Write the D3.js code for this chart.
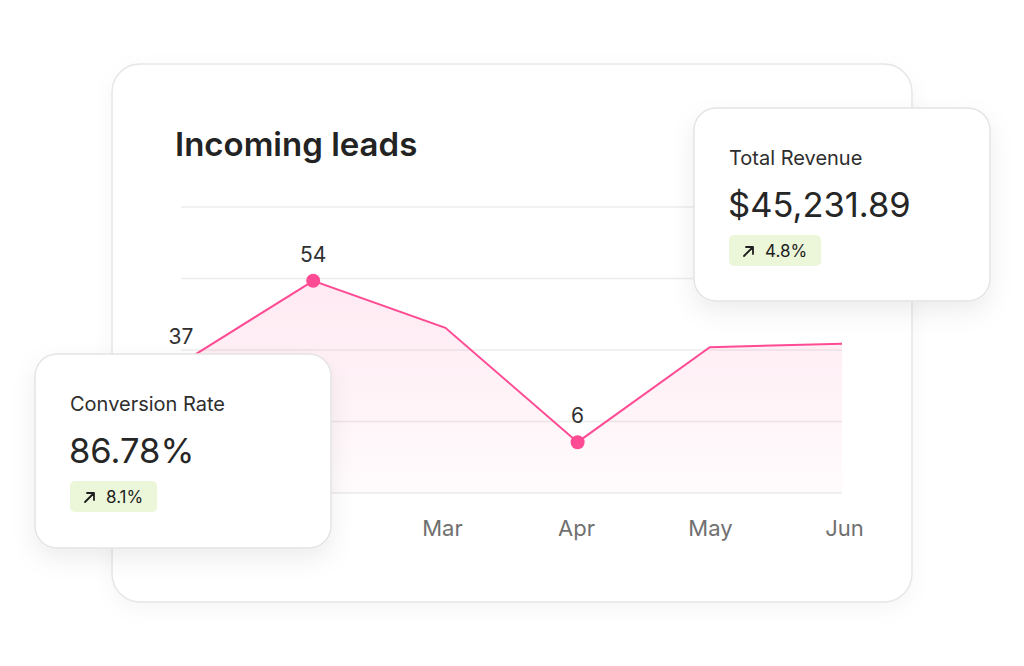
<!DOCTYPE html>
<html>
<head>
<meta charset="utf-8">
<script src="https://cdn.jsdelivr.net/npm/d3@7"></script>
<style>
  body { margin: 0; background: #fff; }
  svg { display: block; font-family: Inter, "Noto Sans", sans-serif; }
</style>
</head>
<body>
<svg id="chart" width="1024" height="666"></svg>
<script>
// chart data
const months = ["Jan", "Feb", "Mar", "Apr", "May", "Jun"];
const leads = [37, 54, 45, 6, 40.8, 41.6];
const labeledMonths = ["Jan", "Feb", "Apr"];

// kpi cards
const kpiTitles = ["Conversion Rate", "Total Revenue"];
const kpiValues = ["86.78%", "$45,231.89"];
const kpiChanges = ["8.1%", "4.8%"];

const pink = "#ff4b93";

const svg = d3.select("#chart");
const defs = svg.append("defs");

// soft shadows for the cards
function shadow(id, dy, blur, opacity) {
  defs
    .append("filter")
    .attr("id", id)
    .attr("x", "-30%")
    .attr("y", "-30%")
    .attr("width", "160%")
    .attr("height", "170%")
    .append("feDropShadow")
    .attr("dx", 0)
    .attr("dy", dy)
    .attr("stdDeviation", blur)
    .attr("flood-color", "#000")
    .attr("flood-opacity", opacity);
}
shadow("mainShadow", 6, 10, 0.04);
shadow("kpiShadow", 10, 12, 0.07);

const grad = defs
  .append("linearGradient")
  .attr("id", "areaFill")
  .attr("x1", 0)
  .attr("x2", 0)
  .attr("y1", 0)
  .attr("y2", 1);
grad.append("stop").attr("offset", "0%").attr("stop-color", pink).attr("stop-opacity", 0.12);
grad.append("stop").attr("offset", "100%").attr("stop-color", pink).attr("stop-opacity", 0.02);

// main card
const card = { x: 112, y: 64, w: 800, h: 538 };
svg
  .append("rect")
  .attr("x", card.x)
  .attr("y", card.y)
  .attr("width", card.w)
  .attr("height", card.h)
  .attr("rx", 28)
  .attr("fill", "#fff")
  .attr("stroke", "#e6e6e6")
  .attr("stroke-width", 1.5)
  .attr("filter", "url(#mainShadow)");

svg
  .append("text")
  .attr("x", 175)
  .attr("y", 156)
  .attr("fill", "#232323")
  .style("font-size", "33px")
  .style("font-weight", 600)
  .text("Incoming leads");

// plot area
const plot = { left: 181, right: 842, top: 207, bottom: 493 };
const gridCount = 5;
const gridStep = (plot.bottom - plot.top) / (gridCount - 1);

const x = d3.scalePoint().domain(months).range([plot.left, plot.right]);
// month labels sit on a slightly wider spacing than the points
const xLabels = d3.scalePoint().domain(months).range([174, 844]);
// the picture spaces the values non-linearly, a pow scale follows it
const y = d3.scalePow().exponent(1.85).domain([0, 66]).range([445, plot.top]);

svg
  .append("g")
  .selectAll("line")
  .data(d3.range(gridCount))
  .join("line")
  .attr("x1", plot.left)
  .attr("x2", plot.right)
  .attr("y1", (i) => plot.top + i * gridStep)
  .attr("y2", (i) => plot.top + i * gridStep)
  .attr("stroke", "#ececec")
  .attr("stroke-width", 1.5);

const points = months.map((m, i) => ({ month: m, value: leads[i] }));

const area = d3
  .area()
  .x((d) => x(d.month))
  .y0(plot.bottom)
  .y1((d) => y(d.value));

const line = d3
  .line()
  .x((d) => x(d.month))
  .y((d) => y(d.value));

svg.append("path").datum(points).attr("d", area).attr("fill", "url(#areaFill)");

svg
  .append("path")
  .datum(points)
  .attr("d", line)
  .attr("fill", "none")
  .attr("stroke", pink)
  .attr("stroke-width", 2);

const labeled = points.filter((d) => labeledMonths.includes(d.month));

svg
  .append("g")
  .selectAll("circle")
  .data(labeled)
  .join("circle")
  .attr("cx", (d) => x(d.month))
  .attr("cy", (d) => y(d.value))
  .attr("r", 7)
  .attr("fill", pink);

svg
  .append("g")
  .selectAll("text")
  .data(labeled)
  .join("text")
  .attr("x", (d) => x(d.month))
  .attr("y", (d) => y(d.value) - 19)
  .attr("text-anchor", "middle")
  .attr("fill", "#303030")
  .style("font-size", "21px")
  .text((d) => d.value);

// month axis
const xAxis = d3.axisBottom(xLabels).tickSize(0);
const axisG = svg
  .append("g")
  .attr("transform", `translate(0, ${plot.bottom})`)
  .call(xAxis);
axisG.select(".domain").remove();
axisG
  .selectAll("text")
  .attr("y", 43)
  .attr("dy", 0)
  .attr("fill", "#707070")
  .style("font-size", "22px")
  .style("font-family", "Inter, 'Noto Sans', sans-serif");

// kpi cards on top
const kpiLayout = [
  { x: 35, y: 354, w: 296, h: 194 },
  { x: 694, y: 108, w: 296, h: 193 },
];

kpiTitles.forEach((title, i) => {
  const b = kpiLayout[i];
  const g = svg.append("g").attr("transform", `translate(${b.x}, ${b.y})`);

  g.append("rect")
    .attr("width", b.w)
    .attr("height", b.h)
    .attr("rx", 22)
    .attr("fill", "#fff")
    .attr("stroke", "#e4e4e4")
    .attr("stroke-width", 1.5)
    .attr("filter", "url(#kpiShadow)");

  g.append("text")
    .attr("x", 35)
    .attr("y", 57)
    .attr("fill", "#2e2e2e")
    .style("font-size", "20px")
    .text(title);

  g.append("text")
    .attr("x", 34)
    .attr("y", 108.5)
    .attr("fill", "#262626")
    .style("font-size", "34.5px")
    .text(kpiValues[i]);

  // change badge
  const badge = g.append("g").attr("transform", "translate(35, 127)");
  const label = badge
    .append("text")
    .attr("x", 36)
    .attr("y", 21.5)
    .attr("fill", "#1f1f1f")
    .style("font-size", "17px")
    .text(kpiChanges[i]);
  const textW = label.node().getComputedTextLength();
  badge
    .insert("rect", "text")
    .attr("width", 36 + textW + 14)
    .attr("height", 31)
    .attr("rx", 5)
    .attr("fill", "#ecf7d9");
  // small up-right arrow
  badge
    .append("path")
    .attr("d", "M15,21 L24,12 M17,12 L24,12 L24,19")
    .attr("fill", "none")
    .attr("stroke", "#1f1f1f")
    .attr("stroke-width", 1.8)
    .attr("stroke-linecap", "round")
    .attr("stroke-linejoin", "round");
});
</script>
</body>
</html>
